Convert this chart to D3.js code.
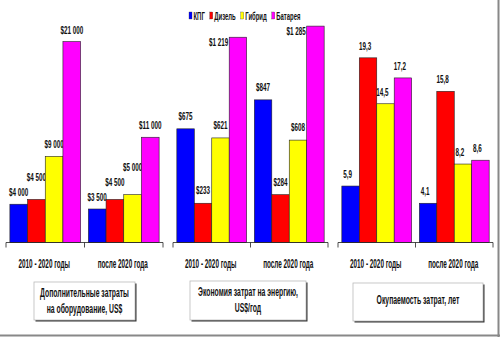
<!DOCTYPE html>
<html><head><meta charset="utf-8">
<script src="https://cdn.jsdelivr.net/npm/d3@7"></script>
<style>body{margin:0;background:#fff}svg{display:block}</style>
</head><body>
<svg id="c" width="500" height="337"></svg>
<script>
const series = ["КПГ","Дизель","Гибрид","Батарея"];
const colors = ["#0000ff","#ff0000","#ffff00","#ff00ff"];
const categories = ["2010 - 2020 годы","после 2020 года"];
const equipCost = [[4000,4500,9000,21000],[3500,4500,5000,11000]];
const equipLabels = [["$4 000","$4 500","$9 000","$21 000"],["$3 500","$4 500","$5 000","$11 000"]];
const energySave = [[675,233,621,1219],[847,284,608,1285]];
const energyLabels = [["$675","$233","$621","$1 219"],["$847","$284","$608","$1 285"]];
const payback = [[5.9,19.3,14.5,17.2],[4.1,15.8,8.2,8.6]];
const paybackLabels = [["5,9","19,3","14,5","17,2"],["4,1","15,8","8,2","8,6"]];
const titles = [["Дополнительные затраты","на оборудование, US$"],["Экономия затрат на энергию,","US$/год"],["Окупаемость затрат, лет"]];

const svg = d3.select("#c");
const FONT = "'Liberation Sans', Arial, sans-serif";
function txt(g, s, x, y, size, sx, anchor, weight){
  return g.append("text").attr("transform",`translate(${x},${y}) scale(${sx},1)`)
    .attr("text-anchor",anchor||"middle").attr("font-family",FONT)
    .attr("font-weight",weight||"bold")
    .attr("font-size",size).attr("fill","#111").text(s);
}

const baseY = 242.5;
const panels = [
  {data:equipCost, labels:equipLabels, x:[6,163], max:22000, box:[34,282,101,38], gap:8},
  {data:energySave, labels:energyLabels, x:[173,328], max:1250, box:[190,281,116,39], side:true, gap:9},
  {data:payback, labels:paybackLabels, x:[338,493], max:22, box:[353,283,130,38], dx:-3, gap:8}
];

panels.forEach((p,pi)=>{
  const g = svg.append("g");
  const x0 = d3.scaleBand().domain(categories).range(p.x);
  const x1 = d3.scaleBand().domain(series).range([0,x0.bandwidth()]).paddingOuter(0.22);
  const y = d3.scaleLinear().domain([0,p.max]).range([baseY,32]);
  categories.forEach((c,ci)=>{
    let prev = null;
    series.forEach((s,si)=>{
      const v = p.data[ci][si];
      const bx = x0(c)+x1(s);
      g.append("rect").attr("x",bx).attr("y",y(v)).attr("width",x1.bandwidth())
        .attr("height",baseY-y(v)).attr("fill",colors[si]).attr("stroke","#222").attr("stroke-width",0.6);
      const lab = p.labels[ci][si];
      if(p.side && y(v) < 50){
        txt(g, lab, bx-1, y(v)+9, 10.5, 0.6, "end");
      } else {
        const cx = bx+x1.bandwidth()/2+(p.dx||0);
        let by = y(v)-p.gap;
        const t = txt(g, lab, cx, by, 10.5, 0.6);
        const w = t.node().getComputedTextLength()*0.6;
        const box = {l:cx-w/2, r:cx+w/2, b:by};
        if(prev && box.l < prev.r && box.r > prev.l && Math.abs(by-prev.b) < 11){
          by = prev.b - 15;
          t.attr("transform",`translate(${cx},${by}) scale(0.6,1)`);
          box.b = by;
        }
        prev = box;
      }
    });
    txt(g, c, x0(c)+x0.bandwidth()/2-1, 268, 12, 0.53);
  });
  // axis
  const ax = d3.axisBottom(x0).tickSize(0).tickFormat("");
  const axg = g.append("g").attr("transform",`translate(0,${baseY})`).call(ax);
  axg.select(".domain").attr("stroke","#222").attr("stroke-width",0.8).attr("d",`M${p.x[0]},0H${p.x[1]}`);
  const edges = [p.x[0], p.x[0]+x0.step(), p.x[1]];
  edges.forEach(e=>axg.append("line").attr("x1",e).attr("x2",e).attr("y1",0).attr("y2",5).attr("stroke","#222").attr("stroke-width",0.8));
  // title box
  const [bx,by,bw,bh] = p.box;
  g.append("rect").attr("x",bx+1.5).attr("y",by+1.5).attr("width",bw).attr("height",bh).attr("fill","#333");
  g.append("rect").attr("x",bx).attr("y",by).attr("width",bw).attr("height",bh).attr("fill","#fff").attr("stroke","#bbb").attr("stroke-width",0.8);
  const lines = titles[pi];
  const cx = bx+bw/2;
  if(lines.length===2){
    txt(g, lines[0], cx, by+15, 12, 0.57);
    txt(g, lines[1], cx, by+31, 12, 0.57);
  } else {
    txt(g, lines[0], cx, by+21, 12, 0.57);
  }
});

// legend
let lx = 189;
const lg = svg.append("g");
series.forEach((s,i)=>{
  lg.append("rect").attr("x",lx).attr("y",12).attr("width",3).attr("height",7).attr("fill",colors[i]).attr("stroke","#333").attr("stroke-width",0.3);
  const t = txt(lg, s, lx+4.5, 19.5, 11, 0.54, "start");
  const w = t.node().getComputedTextLength()*0.54;
  lx += 4.5 + w + 5;
});

// outer border (right & bottom)
svg.append("line").attr("x1",498.5).attr("x2",498.5).attr("y1",0).attr("y2",337).attr("stroke","#888").attr("stroke-width",2);
svg.append("line").attr("x1",0).attr("x2",500).attr("y1",335.5).attr("y2",335.5).attr("stroke","#888").attr("stroke-width",2);
</script>
</body></html>
